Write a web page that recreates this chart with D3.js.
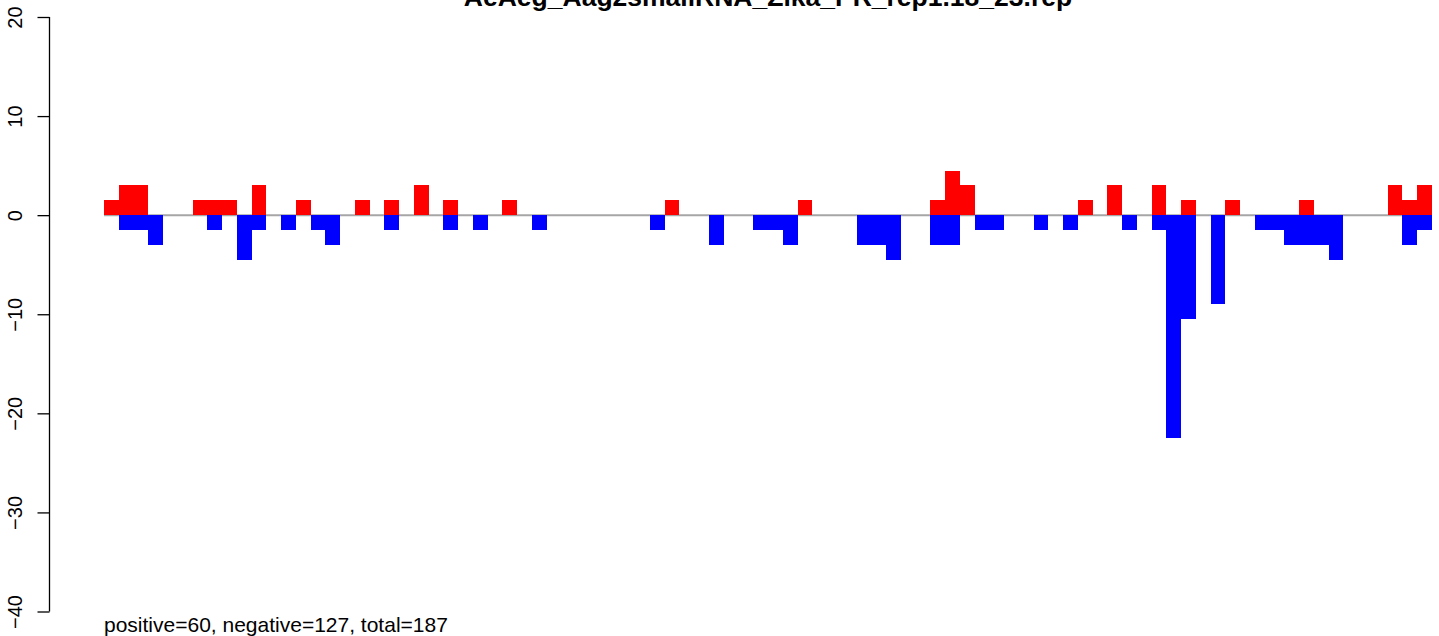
<!DOCTYPE html>
<html>
<head>
<meta charset="utf-8">
<script src="https://cdn.jsdelivr.net/npm/d3@7"></script>
<style>
  body { margin: 0; background: #fff; }
  text { font-family: "Liberation Sans", Arial, sans-serif; }
</style>
</head>
<body>
<div id="chart"></div>
<script>
// bin positions along the sequence (90 bins)
const nBins = 90;
const posBins = [0, 1, 2, 6, 7, 8, 10, 13, 17, 19, 21, 23, 27, 38, 47, 56, 57, 58, 66, 68, 71, 73, 76, 81, 87, 88, 89];
const posVals = [1.5, 3, 3, 1.5, 1.5, 1.5, 3, 1.5, 1.5, 1.5, 3, 1.5, 1.5, 1.5, 1.5, 1.5, 4.5, 3, 1.5, 3, 3, 1.5, 1.5, 1.5, 3, 1.5, 3];
const negBins = [1, 2, 3, 7, 9, 10, 12, 14, 15, 19, 23, 25, 29, 37, 41, 44, 45, 46, 51, 52, 53, 56, 57, 59, 60, 63, 65, 69, 71, 72, 73, 75, 78, 79, 80, 81, 82, 83, 88, 89];
const negVals = [-1.5, -1.5, -3, -1.5, -4.5, -1.5, -1.5, -1.5, -3, -1.5, -1.5, -1.5, -1.5, -1.5, -3, -1.5, -1.5, -3, -3, -3, -4.5, -3, -3, -1.5, -1.5, -1.5, -1.5, -1.5, -1.5, -22.5, -10.5, -9, -1.5, -1.5, -3, -3, -3, -4.5, -3, -1.5];
const yTicks = [-40, -30, -20, -10, 0, 10, 20];
const title = "AeAeg_Aag2smallRNA_Zika_PR_rep1.18_23.rep";
const subtitle = "positive=60, negative=127, total=187";

const W = 1439, H = 636;
const svg = d3.select("#chart").append("svg")
    .attr("width", W)
    .attr("height", H);

const x = d3.scaleLinear().domain([0, nBins]).range([104, 1432]);
const y = d3.scaleLinear().domain([-40, 20]).range([611.5, 17]);

// zero line
svg.append("line")
    .attr("x1", x(0)).attr("x2", x(nBins))
    .attr("y1", y(0)).attr("y2", y(0))
    .attr("stroke", "#a6a6a6")
    .attr("stroke-width", 2);

const posData = posBins.map((b, i) => ({bin: b, v: posVals[i]}));
const negData = negBins.map((b, i) => ({bin: b, v: negVals[i]}));

// positive bars
svg.append("g")
    .selectAll("rect")
    .data(posData)
    .join("rect")
    .attr("x", d => x(d.bin))
    .attr("width", d => x(d.bin + 1) - x(d.bin))
    .attr("y", d => y(d.v))
    .attr("height", d => y(0) - y(d.v))
    .attr("fill", "#ff0000")
    .attr("shape-rendering", "crispEdges");

// negative bars
svg.append("g")
    .selectAll("rect")
    .data(negData)
    .join("rect")
    .attr("x", d => x(d.bin))
    .attr("width", d => x(d.bin + 1) - x(d.bin))
    .attr("y", y(0))
    .attr("height", d => y(d.v) - y(0))
    .attr("fill", "#0000ff")
    .attr("shape-rendering", "crispEdges");

// y axis, R style
const axis = svg.append("g")
    .attr("transform", "translate(49.5,0)")
    .call(d3.axisLeft(y).tickValues(yTicks).tickSize(12).tickFormat(d => d < 0 ? "\u2212" + Math.abs(d) : d));
axis.select(".domain").attr("stroke", "#000").attr("stroke-width", 1.3).attr("d", `M0,${y(-40)}V${y(20)}`);
axis.selectAll(".tick line").attr("stroke", "#000").attr("stroke-width", 1.3);
axis.selectAll(".tick text")
    .attr("font-family", "Liberation Sans, Arial, sans-serif")
    .attr("font-size", 20)
    .attr("fill", "#000")
    .attr("text-anchor", "middle")
    .attr("dy", null)
    .attr("x", null)
    .attr("transform", "translate(-34.5,0) rotate(-90)")
    .attr("dominant-baseline", "central");

// title
svg.append("text")
    .attr("x", (x(0) + x(nBins)) / 2)
    .attr("y", 6)
    .attr("text-anchor", "middle")
    .attr("font-size", 26.5)
    .attr("font-weight", "bold")
    .text(title);

// counts
svg.append("text")
    .attr("x", 104)
    .attr("y", 632)
    .attr("font-size", 21)
    .text(subtitle);
</script>
</body>
</html>
